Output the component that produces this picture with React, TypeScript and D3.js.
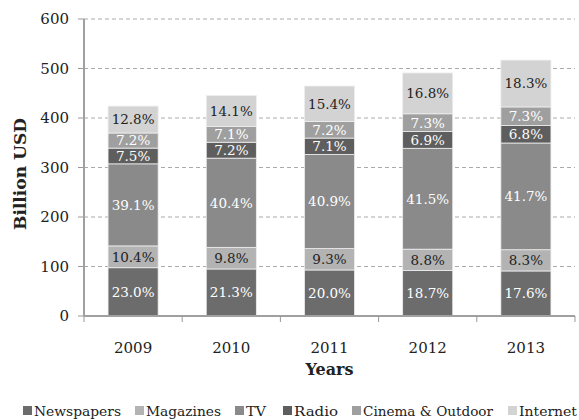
import React from "react";
import * as d3 from "d3";

const years = ["2009", "2010", "2011", "2012", "2013"];
const totals = [424, 446, 465, 491, 517];
const seriesNames = ["Newspapers", "Magazines", "TV", "Radio", "Cinema & Outdoor", "Internet"];
const newspapers = [23.0, 21.3, 20.0, 18.7, 17.6];
const magazines = [10.4, 9.8, 9.3, 8.8, 8.3];
const tv = [39.1, 40.4, 40.9, 41.5, 41.7];
const radio = [7.5, 7.2, 7.1, 6.9, 6.8];
const cinema = [7.2, 7.1, 7.2, 7.3, 7.3];
const internet = [12.8, 14.1, 15.4, 16.8, 18.3];
const yTicks = [0, 100, 200, 300, 400, 500, 600];

const shares = [newspapers, magazines, tv, radio, cinema, internet];
const colors = ["#6c6c6c", "#b3b3b3", "#8a8a8a", "#5e5e5e", "#9f9f9f", "#d3d3d3"];
const labelColors = ["#fff", "#222", "#fff", "#fff", "#fff", "#222"];

const W = 579, H = 420;
const FONT = "'DejaVu Serif', Georgia, serif";

export default function App() {
  const left = 84, right = 575, top = 19, bottom = 316;
  const x = d3.scaleBand<string>().domain(years).range([left, right]).paddingInner(0.49).paddingOuter(0.245);
  const xt = d3.scaleBand<string>().domain(years).range([left, right]).padding(0);
  const y = d3.scaleLinear().domain([0, 600]).range([bottom, top]);

  const table = years.map((yr, i) => {
    const row: any = { year: yr };
    seriesNames.forEach((s, k) => { row[s] = (totals[i] * shares[k][i]) / 100; });
    return row;
  });
  const stacked = d3.stack<any>().keys(seriesNames)(table);

  const legendX = [23, 135, 235, 283, 352, 508];
  const legendW = [87, 75, 20, 44, 130, 58];

  return (
    <svg width={W} height={H} style={{ position: "absolute", left: 0, top: 0, background: "#fff" }} fontFamily={FONT}>
      {yTicks.map((t) => (
        <g key={t}>
          {t > 0 && (
            <line x1={left} x2={right} y1={y(t)} y2={y(t)} stroke="#aaa" strokeWidth={1} strokeDasharray="4,3" />
          )}
          <line x1={left - 6} x2={left} y1={y(t)} y2={y(t)} stroke="#999" />
          <text x={left - 15} y={y(t)} dy="0.35em" textAnchor="end" fontSize={15} fill="#222">{t}</text>
        </g>
      ))}
      {stacked.map((layer, k) => (
        <g key={layer.key}>
          {layer.map((d, i) => (
            <g key={i}>
              <rect x={x(years[i])!} width={x.bandwidth()} y={y(d[1])} height={y(d[0]) - y(d[1])} fill={colors[k]} stroke="#eeeeee" strokeWidth={0.8} />
              <text x={x(years[i])! + x.bandwidth() / 2} y={(y(d[0]) + y(d[1])) / 2} dy="0.36em" textAnchor="middle" fontSize={13.5} fill={labelColors[k]}>
                {shares[k][i].toFixed(1)}%
              </text>
            </g>
          ))}
        </g>
      ))}
      <line x1={left} x2={left} y1={top} y2={bottom} stroke="#a0a0a0" strokeWidth={2} />
      <line x1={left} x2={right} y1={bottom} y2={bottom} stroke="#a0a0a0" strokeWidth={2} />
      {[...years.map((yr) => xt(yr)!), right].map((px, i) => (
        <line key={i} x1={px} x2={px} y1={bottom} y2={bottom + 6} stroke="#999" />
      ))}
      {years.map((yr) => (
        <text key={yr} x={xt(yr)! + xt.bandwidth() / 2} y={348} dy="0.35em" textAnchor="middle" fontSize={15} fill="#222">{yr}</text>
      ))}
      <text x={(left + right) / 2} y={369} dy="0.35em" textAnchor="middle" fontSize={16} fontWeight="bold" fill="#222">Years</text>
      <text transform={`translate(20,174) rotate(-90)`} dy="0.35em" textAnchor="middle" fontSize={16} fontWeight="bold" fill="#222" textLength={112} lengthAdjust="spacingAndGlyphs">Billion USD</text>
      {seriesNames.map((s, k) => (
        <g key={s} transform={`translate(${legendX[k]},411)`}>
          <rect x={0} y={-5} width={9} height={9} fill={colors[k]} />
          <text x={11} y={0} dy="0.35em" fontSize={13} fill="#222" textLength={legendW[k]} lengthAdjust="spacingAndGlyphs">{s}</text>
        </g>
      ))}
    </svg>
  );
}
